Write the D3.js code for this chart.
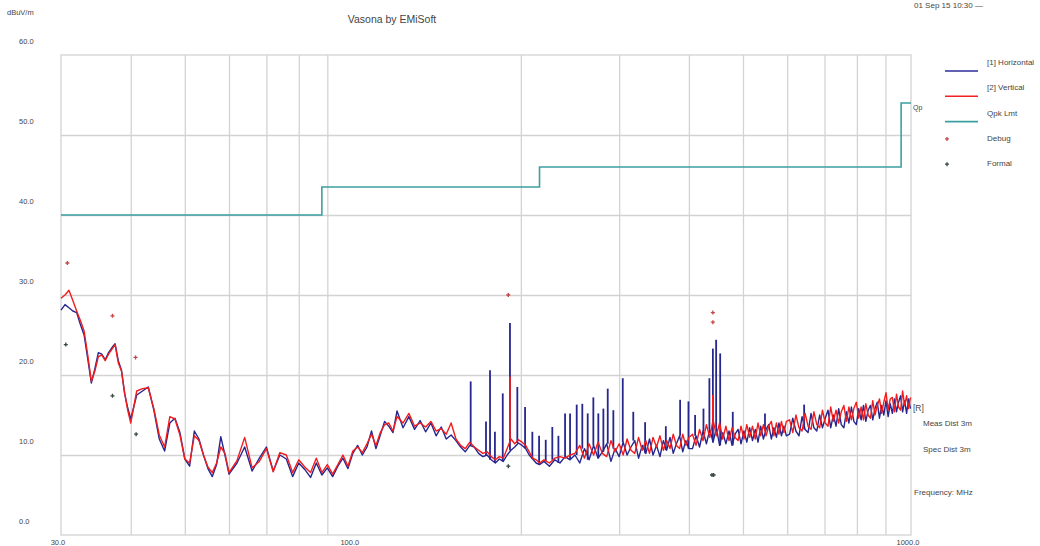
<!DOCTYPE html>
<html>
<head>
<meta charset="utf-8">
<script src="https://cdn.jsdelivr.net/npm/d3@7"></script>
<style>
  body { margin: 0; background: #fff; }
  svg text { font-family: "Liberation Sans", Arial, sans-serif; fill: #454545; }
</style>
</head>
<body>
<svg id="chart"></svg>
<script>
// Scan frequencies (MHz), shared by both polarisations
const freqs = [
  30, 30.5, 31, 31.5, 32, 32.5, 33, 33.5, 34, 34.5, 35, 35.5, 36, 36.5, 37, 37.5, 38, 38.5, 39, 39.5, 40,
  41, 42, 43, 44, 45, 46, 47, 48, 49, 50, 51, 52, 53, 54, 55, 56, 57, 58, 59, 60,
  62, 64, 66, 68, 70, 72, 74, 76, 78, 80, 82, 84, 86, 88, 90, 92, 94, 96, 98,
  100, 102, 104, 106, 108, 110, 112, 114, 116, 118, 120,
  123, 126, 129, 132, 135, 138, 141, 144, 147, 150, 153, 156, 159, 162, 165, 168,
  171, 174, 177, 180, 183, 186, 189, 192, 195, 198, 201, 204, 207, 210, 213, 216,
  220, 225, 230, 235, 240, 245, 250,
  255, 260, 265, 270, 275, 280, 285, 290, 295, 300, 305, 310, 315, 320, 325,
  330, 335, 340, 345, 350, 355, 360, 365, 370, 375, 380, 385, 390, 395, 400,
  406, 412, 418, 424, 430, 436, 442, 448, 454, 460, 466, 472, 478, 484, 490, 496, 502,
  508, 514, 520, 526, 532, 538, 544, 550, 556, 562, 568, 574, 580, 586, 592, 598,
  606, 614, 622, 630, 638, 646, 654, 662, 670, 678, 686, 694, 702, 710, 718, 726, 734,
  742, 750, 758, 766, 774, 782, 790, 798, 806, 814, 822, 830, 838, 846, 854, 862, 870,
  878, 886, 894, 902, 910, 918, 926, 934, 942, 950, 958, 966, 974, 982, 990, 998
];

// [1] Horizontal (dBuV/m)
const horizontal = [
  28.1, 28.8, 28.4, 28.0, 27.8, 26.3, 25.0, 22.0, 19.0, 20.8, 22.8, 22.6, 21.9, 22.8, 23.4, 23.9, 21.8, 20.6, 17.7, 15.9, 14.5,
  17.5, 18.0, 18.5, 15.6, 12.0, 10.5, 14.0, 14.6, 12.8, 9.5, 8.6, 13.0, 12.0, 10.0, 8.3, 7.3, 8.8, 12.3, 10.0, 7.6,
  9.0, 11.0, 8.0, 9.6, 11.0, 8.0, 10.0, 9.5, 7.3, 9.0, 8.2, 7.2, 9.0, 7.5, 8.4, 7.3, 8.6, 9.6, 8.3,
  10.2, 11.2, 10.0, 11.0, 13.0, 10.8, 12.5, 14.2, 13.6, 12.8, 15.5,
  13.4, 14.8, 13.2, 14.3, 12.9, 14.0, 12.4, 13.5, 12.0, 12.5, 11.8, 11.0, 10.4, 11.2, 11.0, 10.2,
  9.8, 10.0, 9.4, 9.0, 9.5, 9.2, 10.0, 10.6, 11.0, 11.5, 11.2, 10.8, 10.0, 9.5, 9.0, 8.8,
  9.2, 8.6, 9.4, 9.0, 9.8, 9.4, 10.0,
  9.0, 10.8, 9.4, 11.2, 9.6, 10.4, 11.4, 9.2, 10.8, 9.8, 11.6, 10.0, 11.0, 11.8, 9.6,
  11.2, 10.2, 12.0, 10.0, 11.2, 9.8, 11.8, 10.6, 12.2, 10.2, 11.4, 12.4, 10.4, 11.8, 10.8,
  10.8, 12.4, 11.0, 13.0, 11.4, 13.2, 11.6, 13.4, 11.2, 12.8, 11.4, 13.0, 11.2, 12.6, 13.2, 11.4, 13.0,
  11.6, 13.4, 11.8, 13.2, 11.6, 13.6, 12.0, 13.2, 13.8, 12.0, 13.4, 12.2, 14.0, 12.4, 13.6, 12.4,
  12.6, 14.6, 13.0, 12.4, 14.8, 13.2, 12.8, 15.2, 13.4, 13.0, 15.0, 13.4, 14.6, 15.6, 13.4, 15.0, 13.6,
  15.8, 13.8, 13.4, 15.4, 14.0, 16.0, 14.2, 13.8, 15.8, 14.4, 16.2, 14.2, 15.6, 16.2, 14.4, 15.8, 16.6,
  14.6, 16.2, 15.0, 16.8, 14.8, 16.4, 15.2, 17.0, 15.4, 16.6, 17.4, 15.4, 16.8, 15.2, 17.0, 15.8
];

// [2] Vertical (dBuV/m)
const vertical = [
  29.6, 30.0, 30.6, 29.3, 28.0, 26.8, 25.5, 22.5, 19.2, 20.5, 22.3, 22.5, 21.8, 22.6, 23.2, 23.8, 21.5, 20.5, 17.8, 15.6, 14.0,
  18.0, 18.3, 18.4, 15.8, 12.5, 11.0, 14.8, 14.5, 12.5, 9.5, 9.0, 12.4, 11.8, 10.0, 8.5, 7.8, 9.0, 11.0, 10.2, 7.8,
  9.3, 12.2, 8.4, 9.2, 10.8, 7.9, 10.3, 10.0, 7.8, 9.4, 8.5, 7.8, 9.6, 7.8, 8.8, 7.6, 8.8, 10.0, 8.6,
  10.5, 11.0, 10.3, 11.4, 12.6, 11.2, 12.8, 13.8, 14.0, 13.0, 14.8,
  14.0, 15.2, 13.6, 14.0, 13.5, 14.2, 13.0, 13.3, 12.6, 14.0, 12.0, 11.2, 10.8, 11.6, 11.0, 10.6,
  10.2, 10.4, 9.8, 9.4, 9.8, 9.6, 10.8, 12.0, 11.4, 11.9, 11.6, 11.2, 10.4, 9.6, 9.4, 9.0,
  9.4, 9.0, 9.6, 9.8, 9.6, 10.0, 10.2,
  11.2, 9.6, 11.4, 10.0, 11.6, 10.2, 9.8, 11.8, 10.4, 11.4, 10.0, 12.0, 10.6, 10.2, 12.2,
  10.6, 11.8, 10.2, 12.2, 11.0, 12.4, 10.6, 11.8, 10.8, 12.6, 11.2, 10.8, 12.6, 11.2, 12.2,
  12.6, 11.2, 13.2, 11.8, 13.8, 12.2, 14.4, 12.4, 14.0, 12.0, 13.6, 11.8, 13.4, 12.2, 11.8, 13.6, 12.0,
  13.8, 12.2, 13.6, 12.0, 14.0, 12.4, 13.8, 12.4, 13.6, 14.2, 12.4, 14.0, 12.6, 14.2, 12.8, 14.2,
  14.4, 12.8, 15.0, 13.4, 13.0, 15.2, 13.6, 13.2, 15.4, 13.8, 13.4, 15.6, 14.0, 13.6, 16.0, 14.2, 15.6,
  14.0, 15.4, 16.2, 14.2, 16.0, 14.4, 15.8, 16.6, 14.6, 16.0, 14.4, 16.4, 15.0, 14.6, 16.8, 15.0, 16.2,
  17.0, 15.2, 16.6, 17.8, 15.6, 17.0, 17.2, 15.4, 17.6, 16.0, 15.6, 18.0, 16.2, 17.4, 15.8, 17.2
];

// Narrowband peaks on top of the traces: [MHz, dBuV/m]
const horizontalSpikes = [
  [162.6, 19.2], [173.2, 14.2], [176.1, 20.6], [179.7, 12.9], [185.6, 17.7], [191.2, 26.5],
  [197.1, 18.5], [203.5, 16.0], [209.7, 12.9], [215.6, 12.4], [221.6, 11.9], [227.7, 13.5],
  [233.5, 12.4], [240.0, 15.2], [245.0, 15.2], [251.8, 16.3], [257.7, 16.4], [263.5, 15.2],
  [269.7, 17.2], [275.3, 15.2], [281.1, 15.8], [286.2, 18.3], [292.9, 15.6], [304.5, 19.6],
  [318.0, 15.4], [333.9, 14.1], [363.7, 13.6], [385.8, 16.9], [399.3, 16.7], [410.4, 15.0],
  [424.8, 15.8], [435.3, 19.6], [441.6, 23.3], [447.6, 24.4], [455.1, 22.7], [479.4, 15.4],
  [547.5, 15.2], [643.5, 16.3]
];
const verticalSpikes = [[191.2, 19.8], [441.6, 17.5]];

// Quasi-peak limit: level holds from each frequency to the next
const limitFreqs = [30, 88, 216, 960, 1000];
const limitLevels = [40, 43.5, 46, 54, 54];

// Final-scan markers: [MHz, dBuV/m]
const debugPoints = [[30.8, 34.0], [37.1, 27.4], [40.8, 22.2], [189.9, 30.0], [441.6, 27.8], [441.6, 26.6]];
const formalPoints = [[30.6, 23.8], [37.1, 17.4], [40.9, 12.6], [189.9, 8.6], [440.0, 7.5], [443.0, 7.5]];

const yTicks = [0, 10, 20, 30, 40, 50, 60];
const xLabels = [30, 100, 1000];
const xGrid = [40, 50, 60, 70, 80, 90, 200, 300, 400, 500, 600, 700, 800, 900];

const legendItems = [
  { label: '[1] Horizontal', type: 'line', color: '#2e2e9c' },
  { label: '[2] Vertical', type: 'line', color: '#f22222' },
  { label: 'Qpk Lmt', type: 'line', color: '#3e9fa0' },
  { label: 'Debug', type: 'mark', color: '#c24848' },
  { label: 'Formal', type: 'mark', color: '#3a4a3e' }
];

const width = 1040, height = 546;
const plot = { left: 61, right: 911, top: 55, bottom: 535 };

const svg = d3.select('#chart')
  .attr('width', width)
  .attr('height', height);

const x = d3.scaleLog().domain([30, 1000]).range([plot.left, plot.right]);
const y = d3.scaleLinear().domain([0, 60]).range([plot.bottom, plot.top]);

// Grid lines drawn with axes, labels placed separately
const gridColor = '#d3d3d3';

const xGridAxis = svg.append('g')
  .attr('transform', `translate(0,${plot.bottom})`)
  .call(d3.axisBottom(x).tickValues(xGrid).tickSize(-(plot.bottom - plot.top)).tickFormat(''));
const yGridAxis = svg.append('g')
  .attr('transform', `translate(${plot.left},0)`)
  .call(d3.axisLeft(y).tickValues(yTicks.slice(1, -1)).tickSize(-(plot.right - plot.left)).tickFormat(''));
[xGridAxis, yGridAxis].forEach(g => {
  g.select('.domain').remove();
  g.selectAll('line').attr('stroke', gridColor).attr('stroke-width', 1.3);
});

svg.append('rect')
  .attr('x', plot.left).attr('y', plot.top)
  .attr('width', plot.right - plot.left).attr('height', plot.bottom - plot.top)
  .attr('fill', 'none').attr('stroke', gridColor).attr('stroke-width', 1.3);

// Axis labels
svg.selectAll('.y-label')
  .data(yTicks)
  .join('text')
    .attr('class', 'y-label')
    .attr('x', 19)
    .attr('y', d => y(d) - 11)
    .attr('font-size', 7.5)
    .text(d3.format('.1f'));

svg.selectAll('.x-label')
  .data(xLabels)
  .join('text')
    .attr('class', 'x-label')
    .attr('x', d => x(d) - 3)
    .attr('y', 545)
    .attr('text-anchor', 'middle')
    .attr('font-size', 7.5)
    .text(d3.format('.1f'));

svg.append('text').attr('x', 7).attr('y', 15).attr('font-size', 7.5).text('dBuV/m');
svg.append('text').attr('x', 392).attr('y', 23).attr('text-anchor', 'middle')
  .attr('font-size', 10.5).text('Vasona by EMiSoft');
svg.append('text').attr('x', 914).attr('y', 8).attr('font-size', 8).attr('fill', '#666')
  .text('01 Sep 15 10:30 \u2014');

// Limit line
const limitData = limitFreqs.map((f, i) => [f, limitLevels[i]]);
svg.append('path')
  .datum(limitData)
  .attr('fill', 'none')
  .attr('stroke', '#3e9fa0')
  .attr('stroke-width', 1.6)
  .attr('d', d3.line().x(d => x(d[0])).y(d => y(d[1])).curve(d3.curveStepAfter));
svg.append('text').attr('x', 913).attr('y', 110).attr('font-size', 7).text('Qp');

// Traces
const line = d3.line().x(d => x(d[0])).y(d => y(d[1]));
const nearestIndex = f => d3.bisector(d => d).center(freqs, f);

function drawTrace(values, spikes, color) {
  svg.append('path')
    .datum(freqs.map((f, i) => [f, values[i]]))
    .attr('fill', 'none')
    .attr('stroke', color)
    .attr('stroke-width', 1.4)
    .attr('stroke-linejoin', 'round')
    .attr('d', line);

  svg.selectAll(null)
    .data(spikes)
    .join('line')
      .attr('x1', d => x(d[0])).attr('x2', d => x(d[0]))
      .attr('y1', d => y(values[nearestIndex(d[0])]))
      .attr('y2', d => y(d[1]))
      .attr('stroke', color)
      .attr('stroke-width', 1.8);
}

drawTrace(horizontal, horizontalSpikes, '#26268f');
drawTrace(vertical, verticalSpikes, '#f21c1c');

// Markers
const cross = d3.symbol().type(d3.symbolCross).size(9);
function drawMarks(points, color) {
  svg.selectAll(null)
    .data(points)
    .join('path')
      .attr('transform', d => `translate(${x(d[0])},${y(d[1])})`)
      .attr('d', cross)
      .attr('fill', color);
}
drawMarks(debugPoints, '#c24848');
drawMarks(formalPoints, '#3a4a3e');

// Legend
const legend = svg.append('g').attr('transform', 'translate(945,71)');
legendItems.forEach((item, i) => {
  const g = legend.append('g').attr('transform', `translate(0,${i * 25.3})`);
  if (item.type === 'line') {
    g.append('line').attr('x1', 0).attr('x2', 33).attr('y1', 0).attr('y2', 0)
      .attr('stroke', item.color).attr('stroke-width', 1.6);
  } else {
    g.append('path').attr('transform', 'translate(2,-8)').attr('d', cross).attr('fill', item.color);
  }
  g.append('text').attr('x', 42).attr('y', -6).attr('font-size', 8).text(item.label);
});

// Right-hand annotations
svg.append('text').attr('x', 913).attr('y', 411).attr('font-size', 8.5).text('[R]');
svg.append('text').attr('x', 923).attr('y', 426).attr('font-size', 8).text('Meas Dist 3m');
svg.append('text').attr('x', 923).attr('y', 452).attr('font-size', 8).text('Spec Dist 3m');
svg.append('text').attr('x', 914).attr('y', 495).attr('font-size', 8).text('Frequency: MHz');
</script>
</body>
</html>
